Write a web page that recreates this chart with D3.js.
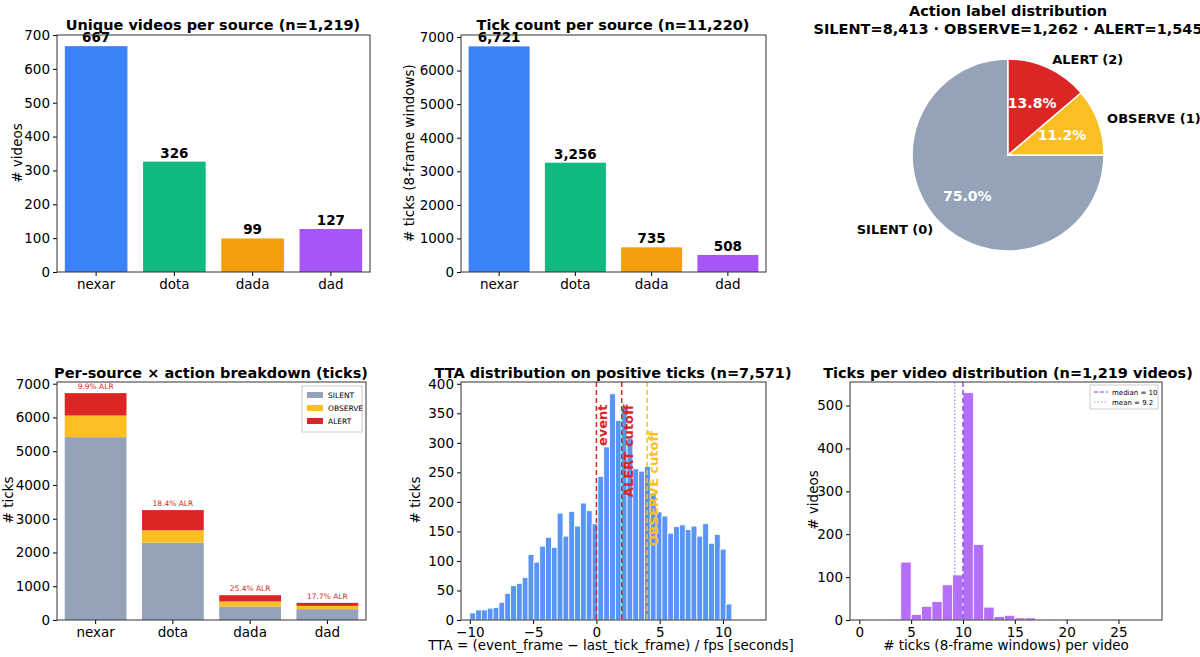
<!DOCTYPE html><html><head><meta charset="utf-8"><script src="https://cdn.jsdelivr.net/npm/d3@7"></script>
<style>body{margin:0;background:#fff}text{font-family:"DejaVu Sans",sans-serif}</style></head><body><svg id="c" width="1200" height="657"></svg><script>
const sources=["nexar","dota","dada","dad"];
const srcColors=["#3b82f6","#10b981","#f59e0b","#a855f7"];
const videos=[667,326,99,127];
const ticks=[6721,3256,735,508];
const silent=[5416,2290,400,320];
const observe=[640,367,148,98];
const alert_=[665,599,187,90];
const alr=["9.9% ALR","18.4% ALR","25.4% ALR","17.7% ALR"];
const actions=["SILENT","OBSERVE","ALERT"];
const actColors=["#94a3b8","#fbbf24","#dc2626"];
const pieVals=[8413,1262,1545];
const pieNames=["SILENT (0)","OBSERVE (1)","ALERT (2)"];
const pieFracs=["75.0%","11.2%","13.8%"];
const ttaStart=-10, ttaWidth=0.46;
const ttaCounts=[12,17,17,20,21,30,45,58,62,72,111,98,125,140,123,181,142,184,159,198,185,163,243,293,383,338,361,308,256,252,260,215,183,176,147,158,161,153,159,142,163,130,145,120,27];
const tpvBins=[2,3,4,5,6,7,8,9,10,11,12,13,14,15,16,17,18];
const tpvCounts=[1,2,135,13,32,43,82,105,530,176,30,8,11,5,5,0,2];

const svg=d3.select("#c");
function frame(x0,x1,y0,y1,xd,yd,isBand){
  const g=svg.append("g");
  const x=isBand?d3.scaleBand().domain(xd).range([x0,x1]).paddingInner(0.2).paddingOuter(0.1):d3.scaleLinear().domain(xd).range([x0,x1]);
  const y=d3.scaleLinear().domain(yd).range([y1,y0]);
  return {g,x,y,x0,x1,y0,y1};
}
function axes(f,yticks,xticks,fmt){
  const ya=f.g.append("g").attr("transform",`translate(${f.x0},0)`).call(d3.axisLeft(f.y).tickValues(yticks).tickSize(4).tickFormat(d3.format("d")));
  const xa=f.g.append("g").attr("transform",`translate(0,${f.y1})`).call(xticks?d3.axisBottom(f.x).tickValues(xticks).tickSize(4).tickFormat(fmt||(d=>d<0?"−"+(-d):d)):d3.axisBottom(f.x).tickSize(4));
  [ya,xa].forEach(a=>{a.selectAll("text").attr("font-size",13.5).attr("fill","#000");a.select(".domain").remove();a.selectAll("line").attr("stroke","#000")});
  f.g.append("rect").attr("x",f.x0).attr("y",f.y0).attr("width",f.x1-f.x0).attr("height",f.y1-f.y0).attr("fill","none").attr("stroke","#333").attr("stroke-width",1);
}
function title(x,y,t){svg.append("text").attr("x",x).attr("y",y).attr("text-anchor","middle").attr("font-size",14.5).attr("font-weight","bold").text(t);}
function ylab(x,y,t){svg.append("text").attr("transform",`translate(${x},${y}) rotate(-90)`).attr("text-anchor","middle").attr("font-size",13.5).text(t);}
function xlab(x,y,t){svg.append("text").attr("x",x).attr("y",y).attr("text-anchor","middle").attr("font-size",13.5).text(t);}

// Panel 1
let f=frame(57,370,35,272,sources,[0,700],true);
f.g.selectAll("rect.b").data(videos).join("rect").attr("x",(d,i)=>f.x(sources[i])).attr("width",f.x.bandwidth()).attr("y",d=>f.y(d)).attr("height",d=>f.y(0)-f.y(d)).attr("fill",(d,i)=>srcColors[i]);
f.g.selectAll("text.v").data(videos).join("text").attr("x",(d,i)=>f.x(sources[i])+f.x.bandwidth()/2).attr("y",d=>f.y(d)-4).attr("text-anchor","middle").attr("font-size",13.5).attr("font-weight","bold").text(d=>d3.format(",")(d));
axes(f,d3.range(0,701,100));
title(213,30,"Unique videos per source (n=1,219)");ylab(22,153,"# videos");

// Panel 2
f=frame(461,766,35,272,sources,[0,7060],true);
f.g.selectAll("rect.b").data(ticks).join("rect").attr("x",(d,i)=>f.x(sources[i])).attr("width",f.x.bandwidth()).attr("y",d=>f.y(d)).attr("height",d=>f.y(0)-f.y(d)).attr("fill",(d,i)=>srcColors[i]);
f.g.selectAll("text.v").data(ticks).join("text").attr("x",(d,i)=>f.x(sources[i])+f.x.bandwidth()/2).attr("y",d=>f.y(d)-4).attr("text-anchor","middle").attr("font-size",13.5).attr("font-weight","bold").text(d=>d3.format(",")(d));
axes(f,d3.range(0,7001,1000));
title(613,30,"Tick count per source (n=11,220)");ylab(414,153,"# ticks (8-frame windows)");

// Panel 3 pie
title(1008,16,"Action label distribution");title(1008,34,"SILENT=8,413 · OBSERVE=1,262 · ALERT=1,545");
const cx=1008,cy=155,R=96;
const arcs=d3.pie().sortValues(null).startAngle(2*Math.PI).endAngle(0)(pieVals);
const pg=svg.append("g").attr("transform",`translate(${cx},${cy})`);
pg.selectAll("path").data(arcs).join("path").attr("d",d3.arc().innerRadius(0).outerRadius(R)).attr("fill",(d,i)=>actColors[i]).attr("stroke","#fff").attr("stroke-width",1.5);
const ain=d3.arc().innerRadius(R*0.6).outerRadius(R*0.6), aout=d3.arc().innerRadius(R*1.1).outerRadius(R*1.1);
pg.selectAll("text.p").data(arcs).join("text").attr("transform",d=>`translate(${ain.centroid(d)})`).attr("text-anchor","middle").attr("dy","0.35em").attr("fill","#fff").attr("font-weight","bold").attr("font-size",14).text((d,i)=>pieFracs[i]);
pg.selectAll("text.n").data(arcs).join("text").attr("transform",d=>`translate(${aout.centroid(d)})`).attr("text-anchor",d=>aout.centroid(d)[0]<0?"end":"start").attr("dy","0.35em").attr("font-weight","bold").attr("font-size",13).text((d,i)=>pieNames[i]);

// Panel 4 stacked
f=frame(57,366,382,620,sources,[0,7050],true);
const stackData=sources.map((s,i)=>({s,SILENT:silent[i],OBSERVE:observe[i],ALERT:alert_[i]}));
const st=d3.stack().keys(actions)(stackData);
st.forEach((layer,k)=>{f.g.selectAll("rect.s"+k).data(layer).join("rect").attr("x",d=>f.x(d.data.s)).attr("width",f.x.bandwidth()).attr("y",d=>f.y(d[1])).attr("height",d=>f.y(d[0])-f.y(d[1])).attr("fill",actColors[k]);});
f.g.selectAll("text.a").data(ticks).join("text").attr("x",(d,i)=>f.x(sources[i])+f.x.bandwidth()/2).attr("y",d=>f.y(d)-4).attr("text-anchor","middle").attr("font-size",7.5).attr("fill","#dc2626").text((d,i)=>alr[i]);
axes(f,d3.range(0,7001,1000));
title(211,378,"Per-source × action breakdown (ticks)");ylab(13,500,"# ticks");
const lg=svg.append("g").attr("transform","translate(302,386)");
lg.append("rect").attr("width",60).attr("height",46).attr("fill","#fff").attr("stroke","#ccc");
actions.forEach((a,i)=>{lg.append("rect").attr("x",5).attr("y",6+i*13).attr("width",16).attr("height",6).attr("fill",actColors[i]);lg.append("text").attr("x",26).attr("y",12+i*13).attr("font-size",7.5).text(a);});

// Panel 5 TTA hist
f=frame(461,766,382,620,[-10.7,13.4],[0,403]);
f.g.selectAll("rect.h").data(ttaCounts).join("rect").attr("x",(d,i)=>f.x(ttaStart+i*ttaWidth)).attr("width",f.x(ttaWidth)-f.x(0)).attr("y",d=>f.y(d)).attr("height",d=>f.y(0)-f.y(d)).attr("fill","#3b82f6").attr("fill-opacity",0.85).attr("stroke","#fff").attr("stroke-width",0.8);
const vl=[[0,"#dc2626","event",365],[2,"#dc2626","ALERT cutoff",365],[4,"#fbbf24","OBSERVE cutoff",320]];
vl.forEach(([v,c,t,yv])=>{f.g.append("line").attr("x1",f.x(v)).attr("x2",f.x(v)).attr("y1",f.y0).attr("y2",f.y1).attr("stroke",c).attr("stroke-width",1.5).attr("stroke-dasharray","5,3");
 f.g.append("text").attr("transform",`translate(${f.x(v)+11},${f.y(yv)}) rotate(-90)`).attr("text-anchor","end").attr("font-size",13).attr("font-weight","bold").attr("fill",c).text(t);});
axes(f,d3.range(0,401,50),[-10,-5,0,5,10]);
title(613,378,"TTA distribution on positive ticks (n=7,571)");ylab(420,500,"# ticks");xlab(611,650,"TTA = (event_frame − last_tick_frame) / fps   [seconds]");

// Panel 6
f=frame(850,1162,382,620,[-0.9,29.2],[0,555]);
f.g.selectAll("rect.h").data(tpvCounts).join("rect").attr("x",(d,i)=>f.x(tpvBins[i])).attr("width",f.x(1)-f.x(0)).attr("y",d=>f.y(d)).attr("height",d=>f.y(0)-f.y(d)).attr("fill","#a855f7").attr("fill-opacity",0.85).attr("stroke","#fff").attr("stroke-width",0.8);
f.g.append("line").attr("x1",f.x(10)).attr("x2",f.x(10)).attr("y1",f.y0).attr("y2",f.y1).attr("stroke","#7c3aed").attr("stroke-width",1.3).attr("stroke-dasharray","5,3");
f.g.append("line").attr("x1",f.x(9.2)).attr("x2",f.x(9.2)).attr("y1",f.y0).attr("y2",f.y1).attr("stroke","#a78bfa").attr("stroke-width",1.3).attr("stroke-dasharray","1.5,2");
axes(f,d3.range(0,501,100),[0,5,10,15,20,25]);
title(1008,378,"Ticks per video distribution (n=1,219 videos)");ylab(818,500,"# videos");xlab(1006,650,"# ticks (8-frame windows) per video");
const l6=svg.append("g").attr("transform","translate(1090,385)");
l6.append("rect").attr("width",68).attr("height",24).attr("fill","#fff").attr("stroke","#ccc");
l6.append("line").attr("x1",4).attr("x2",18).attr("y1",7).attr("y2",7).attr("stroke","#7c3aed").attr("stroke-dasharray","4,2");
l6.append("line").attr("x1",4).attr("x2",18).attr("y1",17).attr("y2",17).attr("stroke","#a78bfa").attr("stroke-dasharray","1.5,2");
l6.append("text").attr("x",22).attr("y",10).attr("font-size",7).text("median = 10");
l6.append("text").attr("x",22).attr("y",20).attr("font-size",7).text("mean = 9.2");
</script></body></html>
